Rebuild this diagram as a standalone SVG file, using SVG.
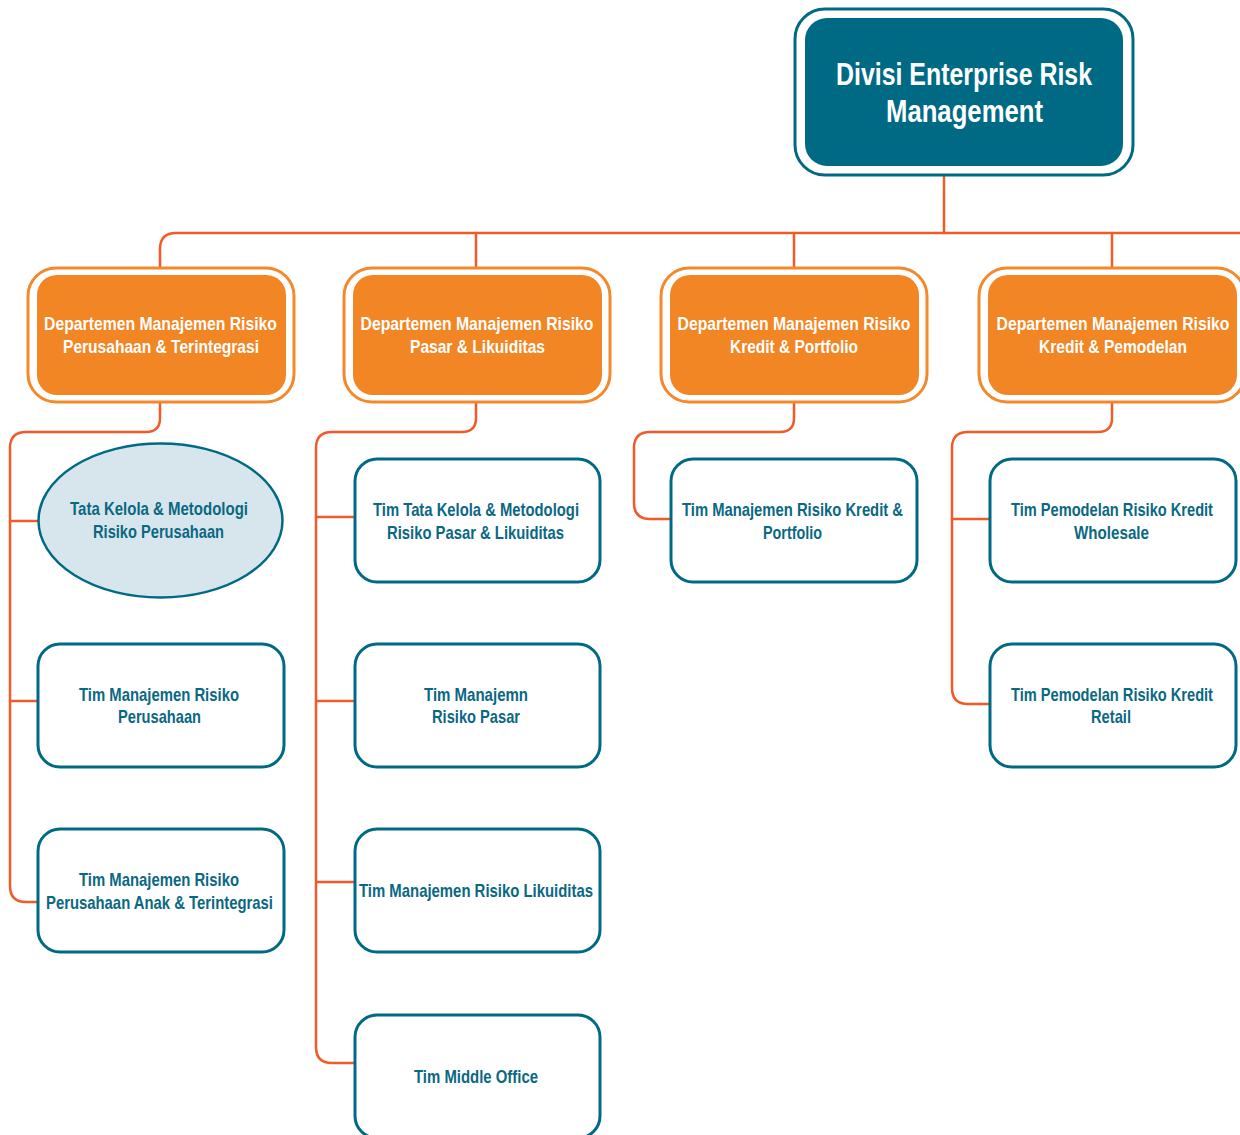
<svg xmlns="http://www.w3.org/2000/svg" width="1240" height="1135" viewBox="0 0 1240 1135">
<style>
.conn{fill:none;stroke:#F15A29;stroke-width:2.5}
.topFrame{fill:#fff;stroke:#006A85;stroke-width:3}
.topFill{fill:#006A85}
.depFrame{fill:#fff;stroke:#F5882A;stroke-width:3}
.depFill{fill:#F28524}
.team{fill:#fff;stroke:#006A85;stroke-width:3}
.ell{fill:#D7E6EC;stroke:#006A85;stroke-width:2.5}
text{font-family:"Liberation Sans Narrow","Liberation Sans",Arial,sans-serif;font-weight:bold;text-anchor:middle}
.tTop{fill:#fff;font-size:30.5px}
.tDep{fill:#fff;font-size:18.5px}
.tTeam{fill:#0A6883;font-size:19px}
</style>
<rect width="1240" height="1135" fill="#fff"/>
<g id="connectors">
<path class="conn" d="M944,176 V233"/>
<path class="conn" d="M1240,233 H176 Q160,233 160,249 V267"/>
<path class="conn" d="M476,233 V267"/>
<path class="conn" d="M794,233 V267"/>
<path class="conn" d="M1112,233 V267"/>
<path class="conn" d="M160,403 V418 Q160,432 146,432 H26 Q10,432 10,448 V886 Q10,902 26,902 H38"/>
<path class="conn" d="M10,521 H39"/>
<path class="conn" d="M10,701 H38"/>
<path class="conn" d="M476,403 V418 Q476,432 462,432 H332 Q316,432 316,448 V1047 Q316,1063 332,1063 H355"/>
<path class="conn" d="M316,517 H355"/>
<path class="conn" d="M316,701 H355"/>
<path class="conn" d="M316,882 H355"/>
<path class="conn" d="M794,403 V418 Q794,432 780,432 H650 Q634,432 634,448 V503 Q634,519 650,519 H671"/>
<path class="conn" d="M1112,403 V418 Q1112,432 1098,432 H968 Q952,432 952,448 V688 Q952,704 968,704 H990"/>
<path class="conn" d="M952,519 H990"/>
</g>
<g id="divisi">
<rect class="topFrame" x="795" y="9" width="338" height="166" rx="30"/>
<rect class="topFill" x="805" y="18" width="318" height="148" rx="22"/>
<text class="tTop" x="964" y="85" textLength="256" lengthAdjust="spacingAndGlyphs">Divisi Enterprise Risk</text>
<text class="tTop" x="964.5" y="122" textLength="157" lengthAdjust="spacingAndGlyphs">Management</text>
</g>
<g id="dep1">
<rect class="depFrame" x="28" y="268" width="266" height="134" rx="28"/>
<rect class="depFill" x="37" y="275" width="249" height="120" rx="20"/>
<text class="tDep" x="160.5" y="330" textLength="233" lengthAdjust="spacingAndGlyphs">Departemen Manajemen Risiko</text>
<text class="tDep" x="161" y="353" textLength="196" lengthAdjust="spacingAndGlyphs">Perusahaan &amp; Terintegrasi</text>
</g>
<g id="dep2">
<rect class="depFrame" x="344" y="268" width="266" height="134" rx="28"/>
<rect class="depFill" x="353" y="275" width="249" height="120" rx="20"/>
<text class="tDep" x="477" y="330" textLength="233" lengthAdjust="spacingAndGlyphs">Departemen Manajemen Risiko</text>
<text class="tDep" x="477.5" y="353" textLength="135" lengthAdjust="spacingAndGlyphs">Pasar &amp; Likuiditas</text>
</g>
<g id="dep3">
<rect class="depFrame" x="661" y="268" width="266" height="134" rx="28"/>
<rect class="depFill" x="670" y="275" width="249" height="120" rx="20"/>
<text class="tDep" x="794" y="330" textLength="233" lengthAdjust="spacingAndGlyphs">Departemen Manajemen Risiko</text>
<text class="tDep" x="794" y="353" textLength="128" lengthAdjust="spacingAndGlyphs">Kredit &amp; Portfolio</text>
</g>
<g id="dep4">
<rect class="depFrame" x="979" y="268" width="266" height="134" rx="28"/>
<rect class="depFill" x="988" y="275" width="249" height="120" rx="20"/>
<text class="tDep" x="1113" y="330" textLength="233" lengthAdjust="spacingAndGlyphs">Departemen Manajemen Risiko</text>
<text class="tDep" x="1113" y="353" textLength="148" lengthAdjust="spacingAndGlyphs">Kredit &amp; Pemodelan</text>
</g>
<g id="tata-kelola-perusahaan">
<ellipse class="ell" cx="160.5" cy="520.5" rx="122" ry="77"/>
<text class="tTeam" x="159" y="515" textLength="178" lengthAdjust="spacingAndGlyphs">Tata Kelola &amp; Metodologi</text>
<text class="tTeam" x="158.5" y="538" textLength="131" lengthAdjust="spacingAndGlyphs">Risiko Perusahaan</text>
</g>
<g id="tim-mr-perusahaan">
<rect class="team" x="38" y="644" width="246" height="123" rx="22"/>
<text class="tTeam" x="159" y="700.5" textLength="160" lengthAdjust="spacingAndGlyphs">Tim Manajemen Risiko</text>
<text class="tTeam" x="159.5" y="723" textLength="83" lengthAdjust="spacingAndGlyphs">Perusahaan</text>
</g>
<g id="tim-mr-anak">
<rect class="team" x="38" y="829" width="246" height="123" rx="22"/>
<text class="tTeam" x="159" y="885.5" textLength="160" lengthAdjust="spacingAndGlyphs">Tim Manajemen Risiko</text>
<text class="tTeam" x="159.5" y="908.5" textLength="227" lengthAdjust="spacingAndGlyphs">Perusahaan Anak &amp; Terintegrasi</text>
</g>
<g id="tim-tata-kelola-pasar">
<rect class="team" x="355" y="459" width="245" height="123" rx="22"/>
<text class="tTeam" x="476" y="516" textLength="206" lengthAdjust="spacingAndGlyphs">Tim Tata Kelola &amp; Metodologi</text>
<text class="tTeam" x="475.5" y="539" textLength="177" lengthAdjust="spacingAndGlyphs">Risiko Pasar &amp; Likuiditas</text>
</g>
<g id="tim-mr-pasar">
<rect class="team" x="355" y="644" width="245" height="123" rx="22"/>
<text class="tTeam" x="476" y="700.5" textLength="104" lengthAdjust="spacingAndGlyphs">Tim Manajemn</text>
<text class="tTeam" x="476" y="723" textLength="88" lengthAdjust="spacingAndGlyphs">Risiko Pasar</text>
</g>
<g id="tim-mr-likuiditas">
<rect class="team" x="355" y="829" width="245" height="123" rx="22"/>
<text class="tTeam" x="476" y="897" textLength="234" lengthAdjust="spacingAndGlyphs">Tim Manajemen Risiko Likuiditas</text>
</g>
<g id="tim-middle-office">
<rect class="team" x="355" y="1015" width="245" height="123" rx="22"/>
<text class="tTeam" x="476" y="1082.5" textLength="124" lengthAdjust="spacingAndGlyphs">Tim Middle Office</text>
</g>
<g id="tim-mr-kredit-portfolio">
<rect class="team" x="671" y="459" width="246" height="123" rx="22"/>
<text class="tTeam" x="792.5" y="516" textLength="221" lengthAdjust="spacingAndGlyphs">Tim Manajemen Risiko Kredit &amp;</text>
<text class="tTeam" x="792.5" y="539" textLength="59" lengthAdjust="spacingAndGlyphs">Portfolio</text>
</g>
<g id="tim-pemodelan-wholesale">
<rect class="team" x="990" y="459" width="246" height="123" rx="22"/>
<text class="tTeam" x="1112" y="516" textLength="202" lengthAdjust="spacingAndGlyphs">Tim Pemodelan Risiko Kredit</text>
<text class="tTeam" x="1111.5" y="539" textLength="75" lengthAdjust="spacingAndGlyphs">Wholesale</text>
</g>
<g id="tim-pemodelan-retail">
<rect class="team" x="990" y="644" width="246" height="123" rx="22"/>
<text class="tTeam" x="1112" y="700.5" textLength="202" lengthAdjust="spacingAndGlyphs">Tim Pemodelan Risiko Kredit</text>
<text class="tTeam" x="1111" y="723" textLength="40" lengthAdjust="spacingAndGlyphs">Retail</text>
</g>
</svg>
